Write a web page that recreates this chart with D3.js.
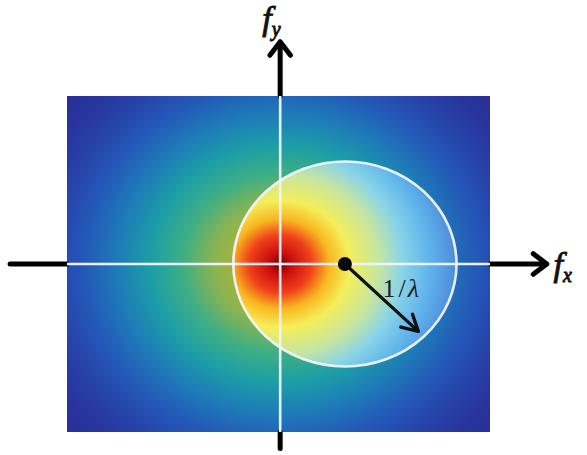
<!DOCTYPE html>
<html>
<head>
<meta charset="utf-8">
<script src="https://cdn.jsdelivr.net/npm/d3@7"></script>
<style>
  html, body { margin: 0; padding: 0; background: #fff; }
  svg { display: block; }
</style>
</head>
<body>
<svg id="chart" width="587" height="455"></svg>
<script>
// Spectrum plane: domain of the frequency map (units of 1/λ)
const fxDomain = [-1.91, 1.88];
const fyDomain = [-1.64, 1.64];

// Spread of the spectrum around the origin
const spectrumSigma = 1.15;

// Circle of radius 1/λ and its centre
const circleCentre = [0.58, 0];
const circleRadius = 1;

// Colour ramp outside the circle (by spectrum value)
const outerStops  = [0, 0.15, 0.3, 0.45, 0.6, 0.75, 0.88, 1.0];
const outerColors = ["#2a2488", "#2836a0", "#2456b8", "#1e7cb8", "#1c9ea6", "#3eae84", "#8cb450", "#b8b030"];

// Colour ramp inside the circle (by distance from the origin)
const innerStops  = [0, 0.1, 0.28, 0.44, 0.62, 0.88, 1.1, 1.35, 1.62];
const innerColors = ["#6e0000", "#c80c0c", "#f0401a", "#f8b820", "#f4ee5a", "#c6e6a0", "#88d4e8", "#5eb2ec", "#4a84d6"];

// Axis extents and labels
const fxAxisExtent = [-2.42, 2.38];
const fyAxisExtent = [-1.80, 2.16];
const axisLabels = [
  { main: "f", sub: "x", at: [2.45, -0.12] },
  { main: "f", sub: "y", at: [-0.16, 2.28] }
];
const radiusLabel = ["1", "/", "λ"];
const radiusAngle = -45;     // degrees
const radiusLength = 0.93;   // fraction of the radius drawn as arrow

const serif = "'Liberation Serif', serif";

const svg = d3.select("#chart");

const x = d3.scaleLinear().domain(fxDomain).range([67, 490]);
const y = d3.scaleLinear().domain(fyDomain).range([432, 96]);

const outerColor = d3.scaleLinear().domain(outerStops).range(outerColors).interpolate(d3.interpolateRgb).clamp(true);
const innerColor = d3.scaleLinear().domain(innerStops).range(innerColors).interpolate(d3.interpolateRgb).clamp(true);

// ---- Heat map of the spectrum, one cell per pixel ----
const x0 = Math.round(x(fxDomain[0])), x1 = Math.round(x(fxDomain[1]));
const y0 = Math.round(y(fyDomain[1])), y1 = Math.round(y(fyDomain[0]));
const W = x1 - x0, H = y1 - y0;
const canvas = document.createElement("canvas");
canvas.width = W; canvas.height = H;
const ctx = canvas.getContext("2d");
const img = ctx.createImageData(W, H);
for (let j = 0; j < H; j++) {
  const fy = y.invert(y0 + j + 0.5);
  for (let i = 0; i < W; i++) {
    const fx = x.invert(x0 + i + 0.5);
    const r = Math.hypot(fx, fy);
    const inside = Math.hypot(fx - circleCentre[0], fy - circleCentre[1]) <= circleRadius;
    const c = d3.rgb(inside ? innerColor(r) : outerColor(Math.exp(-r * r / (2 * spectrumSigma * spectrumSigma))));
    const k = 4 * (j * W + i);
    img.data[k] = c.r; img.data[k + 1] = c.g; img.data[k + 2] = c.b; img.data[k + 3] = 255;
  }
}
ctx.putImageData(img, 0, 0);

svg.append("image")
  .attr("x", x0).attr("y", y0)
  .attr("width", W).attr("height", H)
  .attr("preserveAspectRatio", "none")
  .attr("href", canvas.toDataURL());

// ---- Black axes outside the map, with arrow heads ----
const axes = svg.append("g").attr("stroke", "#000").attr("fill", "none")
  .attr("stroke-linecap", "round").attr("stroke-linejoin", "round");

const axisSegments = [
  [x(fxAxisExtent[0]), y(0), x0, y(0)],
  [x1, y(0), x(fxAxisExtent[1]), y(0)],
  [x(0), y(fyAxisExtent[0]), x(0), y1],
  [x(0), y0, x(0), y(fyAxisExtent[1])]
];
axes.selectAll("line.axis").data(axisSegments).join("line")
  .attr("class", "axis")
  .attr("x1", d => d[0]).attr("y1", d => d[1])
  .attr("x2", d => d[2]).attr("y2", d => d[3])
  .attr("stroke-width", 5);

function chevron(g, tx, ty, angleDeg, len, spread, width) {
  const a = angleDeg * Math.PI / 180;
  const pts = [a + spread, a - spread].map(b => [tx - len * Math.cos(b), ty - len * Math.sin(b)]);
  return g.append("path")
    .attr("d", `M${pts[0][0]},${pts[0][1]}L${tx},${ty}L${pts[1][0]},${pts[1][1]}`)
    .attr("stroke-width", width);
}
chevron(axes, x(fxAxisExtent[1]) + 1, y(0), 0, 17, 0.65, 5);
chevron(axes, x(0), y(fyAxisExtent[1]) - 1, -90, 17, 0.65, 5);

// ---- White guide lines across the map ----
const guides = svg.append("g").attr("stroke", "#eef2ff").attr("stroke-width", 2.6);
guides.append("line").attr("x1", x0).attr("x2", x1).attr("y1", y(0)).attr("y2", y(0));
guides.append("line").attr("x1", x(0)).attr("x2", x(0)).attr("y1", y0).attr("y2", y1);

// ---- Circle of radius 1/λ ----
svg.append("ellipse")
  .attr("cx", x(circleCentre[0])).attr("cy", y(circleCentre[1]))
  .attr("rx", x(circleCentre[0] + circleRadius) - x(circleCentre[0]))
  .attr("ry", y(circleCentre[1]) - y(circleCentre[1] + circleRadius))
  .attr("fill", "none").attr("stroke", "#f2f4fa").attr("stroke-width", 2.6).attr("opacity", 0.95);

// ---- Radius arrow ----
const ra = radiusAngle * Math.PI / 180;
const cx = x(circleCentre[0]), cy = y(circleCentre[1]);
const ex = x(circleCentre[0] + radiusLength * circleRadius * Math.cos(ra));
const ey = y(circleCentre[1] + radiusLength * circleRadius * Math.sin(ra));
const ptr = svg.append("g").attr("stroke", "#111").attr("fill", "none")
  .attr("stroke-linecap", "round").attr("stroke-linejoin", "round");
ptr.append("line").attr("x1", cx).attr("y1", cy).attr("x2", ex).attr("y2", ey).attr("stroke-width", 3.2);
{
  const a = Math.atan2(ey - cy, ex - cx) * 180 / Math.PI;
  chevron(ptr, ex, ey, a, 18, 0.5, 3.4);
}
svg.append("circle").attr("cx", cx).attr("cy", cy).attr("r", 7).attr("fill", "#0a0a0a");

// ---- Radius label ----
const rl = svg.append("text")
  .attr("x", x(1.08)).attr("y", y(-0.32))
  .attr("text-anchor", "middle")
  .style("font-family", serif)
  .attr("font-size", 26).attr("fill", "#1c1c1c");
rl.append("tspan").text(radiusLabel[0]);
rl.append("tspan").attr("dx", 3).text(radiusLabel[1]);
rl.append("tspan").attr("dx", 2).style("font-style", "italic").text(radiusLabel[2]);

// ---- Axis labels (italic serif, slightly thickened with a stroke) ----
axisLabels.forEach(d => {
  const t = svg.append("text")
    .attr("x", x(d.at[0])).attr("y", y(d.at[1]))
    .style("font-family", serif)
    .style("font-style", "italic")
    .attr("fill", "#111")
    .attr("stroke", "#111").attr("stroke-width", 0.9);
  t.append("tspan").attr("font-size", 34).text(d.main);
  t.append("tspan").attr("font-size", 20).attr("dx", 0).attr("dy", 6).text(d.sub);
});
</script>
</body>
</html>
